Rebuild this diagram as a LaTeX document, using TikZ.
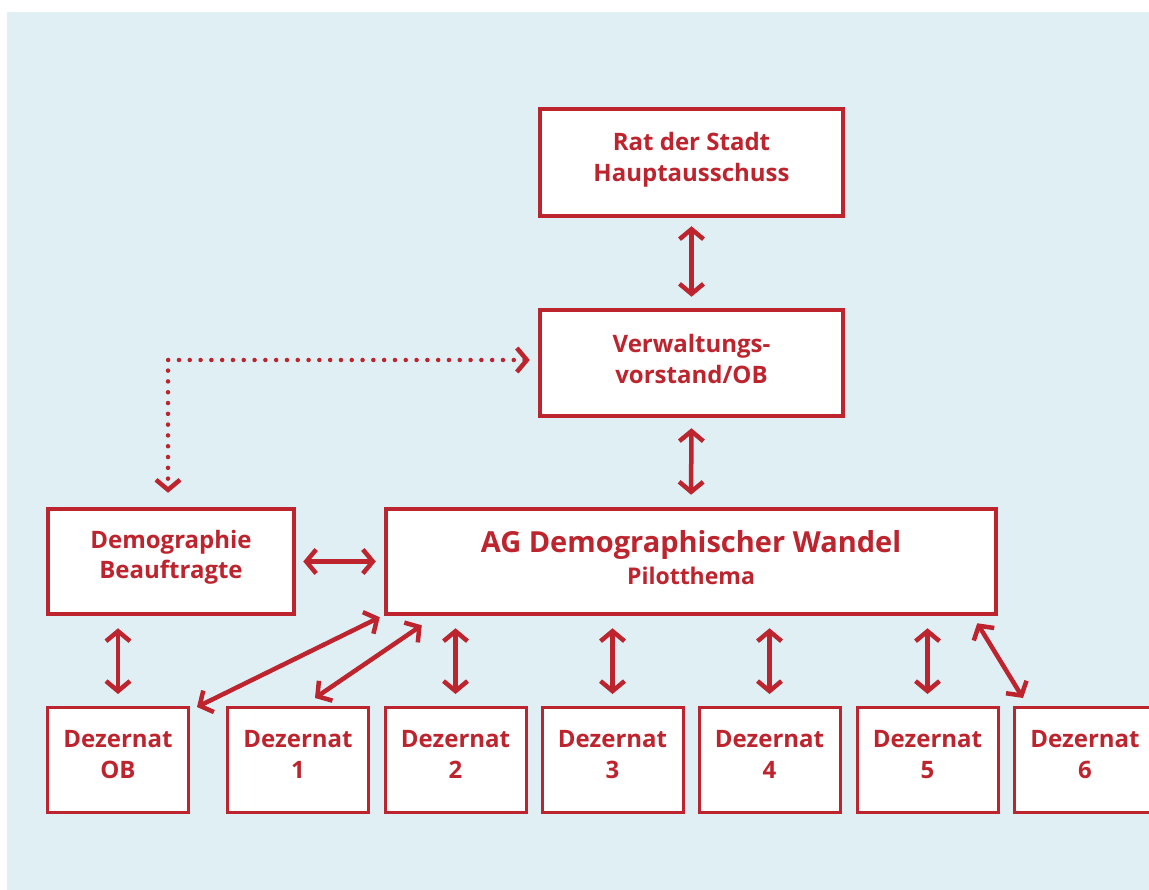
\documentclass[tikz,border=0pt]{standalone}
\usepackage{fontspec}
\setmainfont{Open Sans}
\usetikzlibrary{arrows.meta,calc}
\definecolor{dred}{RGB}{190,36,46}
\definecolor{bgblue}{RGB}{224,239,244}
\tikzset{
  x=1pt,y=-1pt,
  bigbox/.style={draw=dred,line width=4.5pt,fill=white,rectangle,inner sep=0pt,
    align=center,text=dred,text height=39pt,text depth=0pt,
    font=\bfseries\fontsize{24}{31}\selectfont},
  dezbox/.style={draw=dred,line width=3pt,fill=white,rectangle,inner sep=0pt,
    minimum width=141pt,minimum height=105pt,text height=36pt,text depth=0pt,
    align=center,text=dred,font=\bfseries\fontsize{24}{31}\selectfont},
  arr/.style={draw=dred,line width=4.5pt,
    {Straight Barb[length=10pt,width=24pt]}-{Straight Barb[length=10pt,width=24pt]}},
  dotarr/.style={draw=dred,line width=4.5pt,line cap=round,dash pattern=on 0pt off 10.8pt,
    {Straight Barb[length=10pt,width=24pt,line cap=butt]}-{Straight Barb[length=10pt,width=24pt,line cap=butt]}},
}
\begin{document}
\begin{tikzpicture}
\useasboundingbox (0,0) rectangle (1149,890);
\clip (0,0) rectangle (1149,890);
\fill[white] (0,0) rectangle (1149,890);
\fill[bgblue] (7,12) rectangle (1149,890);

\node[bigbox,minimum width=303pt,minimum height=107pt] (rat) at (691.5,162.5)
  {Rat der Stadt\\Hauptausschuss};
\node[bigbox,minimum width=303pt,minimum height=106pt,text height=42pt] (verw) at (691.5,363)
  {Verwaltungs-\\vorstand/OB};
\node[bigbox,minimum width=610pt,minimum height=105pt,text height=45pt,
  font=\bfseries\fontsize{23}{32}\selectfont] (ag) at (691,561.5)
  {{\fontsize{29}{34}\selectfont AG Demographischer Wandel}\\Pilotthema};
\node[bigbox,minimum width=246pt,minimum height=105pt,text height=33pt,
  font=\bfseries\fontsize{24}{29.5}\selectfont] (demo) at (171,561.5)
  {Demographie\\Beauftragte};

\node[dezbox] (dob) at (118,760) {Dezernat\\OB};
\node[dezbox] (d1) at (298,760) {Dezernat\\1};
\node[dezbox] (d2) at (455.5,760) {Dezernat\\2};
\node[dezbox] (d3) at (612.5,760) {Dezernat\\3};
\node[dezbox] (d4) at (769.5,760) {Dezernat\\4};
\node[dezbox] (d5) at (927.5,760) {Dezernat\\5};
\node[dezbox] (d6) at (1085,760) {Dezernat\\6};

\draw[arr,shorten <=8pt,shorten >=11pt] (rat.south) -- (verw.north);
\draw[arr,shorten <=10pt,shorten >=12pt] (verw.south) -- (ag.north);
\draw[arr,shorten <=7pt,shorten >=8pt] (demo.east) -- (ag.west);
\draw[arr,shorten <=12pt,shorten >=12pt] (dob.north |- demo.south) -- (dob.north);
\draw[arr] ($(ag.south west)+(-4,1)$) -- ($(dob.north east)+(7,1)$);
\draw[arr] ($(ag.south west)+(38,9)$) -- ($(d1.north)+(17,-8)$);
\draw[arr,shorten <=12pt,shorten >=12pt] (d2.north |- ag.south) -- (d2.north);
\draw[arr,shorten <=12pt,shorten >=12pt] (d3.north |- ag.south) -- (d3.north);
\draw[arr,shorten <=12pt,shorten >=12pt] (d4.north |- ag.south) -- (d4.north);
\draw[arr,shorten <=12pt,shorten >=12pt] (d5.north |- ag.south) -- (d5.north);
\draw[arr] ($(ag.south east)+(-21,7)$) -- ($(d6.north west)+(10,-8)$);

\coordinate (dotcorner) at (demo.north |- verw.west);
\draw[dotarr] ($(verw.west)+(-8,-3)$) -- ($(dotcorner)+(-3,-3)$) -- ($(demo.north)+(-3,-14)$);
\end{tikzpicture}
\end{document}
